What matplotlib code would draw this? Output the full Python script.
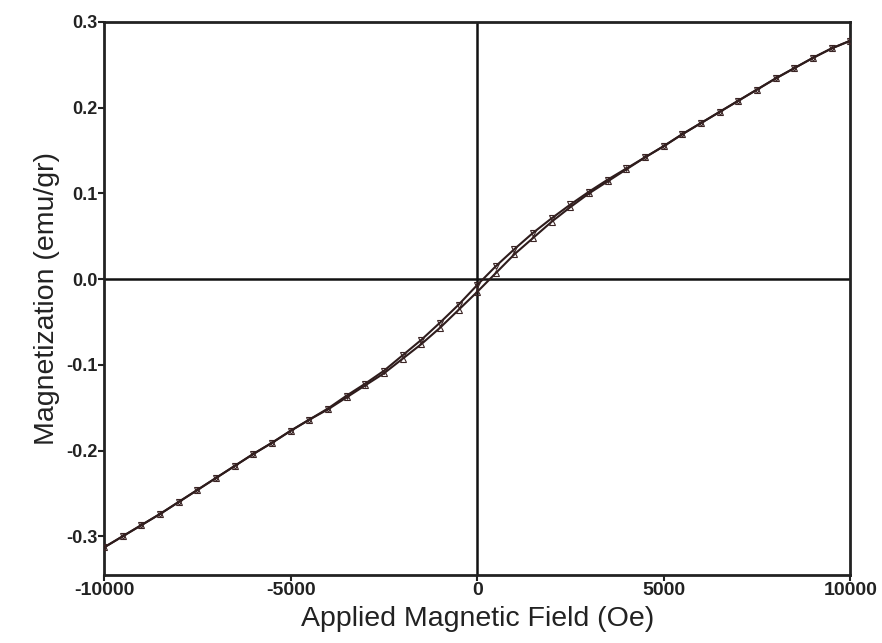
import matplotlib.pyplot as plt

plt.rcParams['font.family'] = ['Liberation Sans', 'DejaVu Sans']

field = [-10000, -9500, -9000, -8500, -8000, -7500, -7000, -6500, -6000, -5500,
         -5000, -4500, -4000, -3500, -3000, -2500, -2000, -1500, -1000, -500,
         0, 500, 1000, 1500, 2000, 2500, 3000, 3500, 4000, 4500,
         5000, 5500, 6000, 6500, 7000, 7500, 8000, 8500, 9000, 9500, 10000]

# descending branch (from +10000 Oe down)
m_down = [-0.313, -0.300, -0.287, -0.274, -0.260, -0.246, -0.232, -0.218, -0.204, -0.191,
          -0.177, -0.164, -0.151, -0.136, -0.122, -0.107, -0.089, -0.071, -0.051, -0.030,
          -0.007, 0.015, 0.035, 0.054, 0.071, 0.087, 0.102, 0.116, 0.129, 0.142,
          0.155, 0.169, 0.182, 0.195, 0.208, 0.221, 0.234, 0.246, 0.258, 0.269, 0.278]

# ascending branch (from -10000 Oe up)
m_up = [-0.313, -0.300, -0.287, -0.274, -0.260, -0.246, -0.232, -0.218, -0.204, -0.191,
        -0.177, -0.164, -0.152, -0.138, -0.124, -0.110, -0.093, -0.076, -0.057, -0.036,
        -0.015, 0.007, 0.029, 0.048, 0.067, 0.084, 0.100, 0.114, 0.128, 0.142,
        0.155, 0.169, 0.182, 0.195, 0.208, 0.221, 0.234, 0.246, 0.258, 0.269, 0.278]

x_ticks = [-10000, -5000, 0, 5000, 10000]
y_ticks = [-0.3, -0.2, -0.1, 0.0, 0.1, 0.2, 0.3]

fig = plt.figure(figsize=(8.82, 6.43), dpi=100)
ax = fig.add_axes([0.118, 0.106, 0.846, 0.860])

ax.axhline(0, color='#111111', lw=1.8, zorder=1)
ax.axvline(0, color='#111111', lw=1.8, zorder=1)

ax.plot(field, m_down, color='#2e1c1c', lw=1.5, marker='v', ms=4,
        mfc='none', mec='#3a2424', mew=0.8, zorder=3)
ax.plot(field, m_up, color='#2e1c1c', lw=1.5, marker='^', ms=4,
        mfc='none', mec='#3a2424', mew=0.8, zorder=3)

ax.set_xlim(-10000, 10000)
ax.set_ylim(-0.345, 0.3)
ax.set_xticks(x_ticks)
ax.set_xticklabels([str(t) for t in x_ticks])
ax.set_yticks(y_ticks)
ax.set_yticklabels(['%.1f' % t for t in y_ticks])

for lbl in ax.get_xticklabels():
    lbl.set_fontweight('bold')
    lbl.set_fontsize(14)
    lbl.set_color('#222222')
for lbl in ax.get_yticklabels():
    lbl.set_fontweight('bold')
    lbl.set_fontsize(13)
    lbl.set_color('#222222')

ax.tick_params(direction='out', length=4, width=1.5, color='#222222', pad=1)

for s in ax.spines.values():
    s.set_linewidth(2)
    s.set_color('#222222')

ax.set_xlabel('Applied Magnetic Field (Oe)', fontsize=20.5, color='#222222',
              fontweight='medium', labelpad=5)
ax.set_ylabel('Magnetization (emu/gr)', fontsize=20.5, color='#222222',
              fontweight='medium', labelpad=4)

fig.savefig('out.png', dpi=100)
